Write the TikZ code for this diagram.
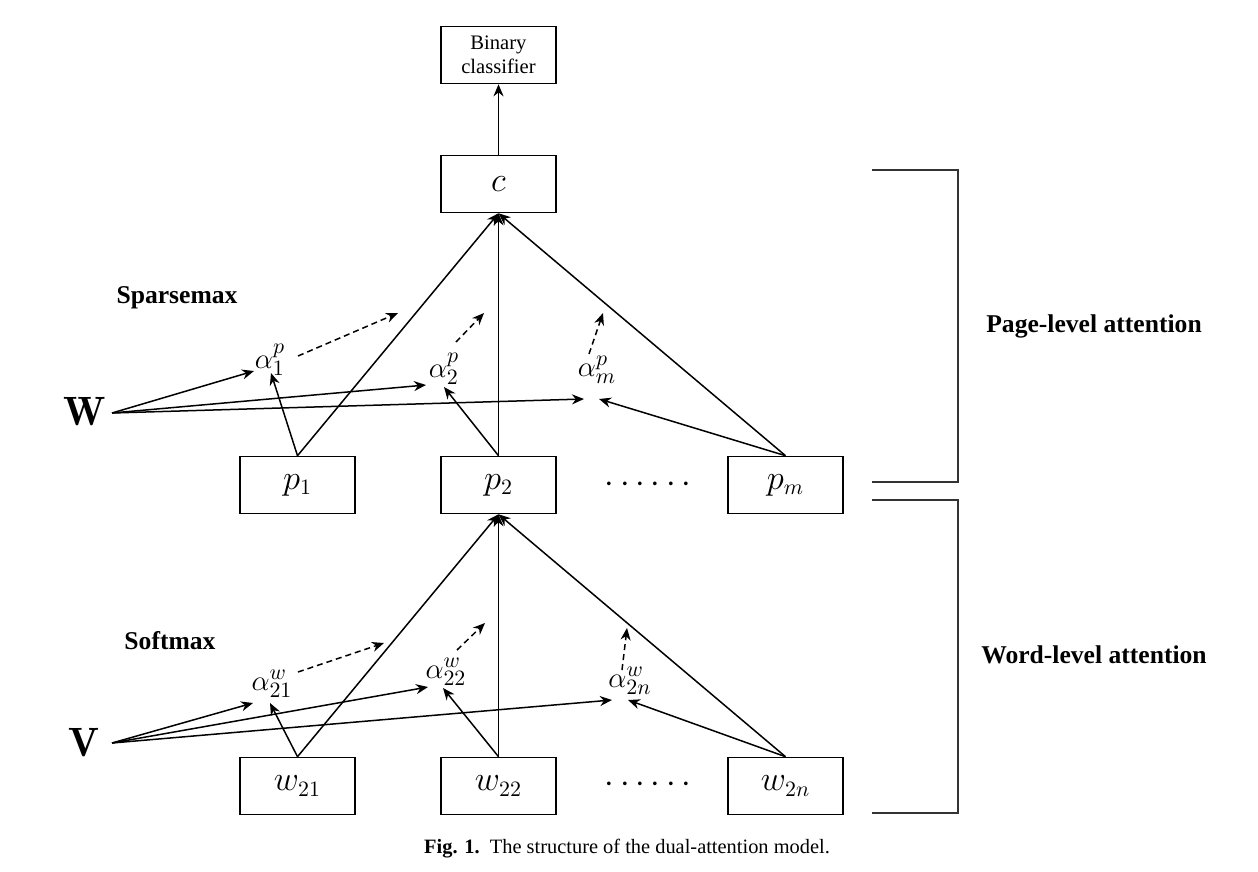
\documentclass[tikz,border=0pt]{standalone}
\usepackage{fontspec}
\newfontfamily\timesfont{Liberation Serif}
\usetikzlibrary{arrows.meta}
\begin{document}
\begin{tikzpicture}[x=0.5pt,y=-0.5pt,
  box/.style={draw,line width=0.8pt,minimum width=57.5pt,minimum height=28.5pt,inner sep=0pt,font=\fontsize{16}{19}\selectfont},
  arr/.style={line width=0.75pt,-{Stealth[length=6pt,width=5pt]}},
  darr/.style={arr,dash pattern=on 3pt off 2pt},
  alab/.style={inner sep=0pt,font=\fontsize{15}{17}\selectfont},
  blab/.style={inner sep=0pt,font=\timesfont\bfseries\fontsize{12.8}{15}\selectfont},
  mlab/.style={inner sep=0pt,font=\fontsize{20.5}{24}\selectfont},
  dots/.style={inner sep=0pt,font=\fontsize{16}{19}\selectfont},
  brk/.style={line width=0.75pt,draw=black!80}]
\useasboundingbox (0,0) rectangle (1258,872);

% boxes
\node[box,align=center,font=\timesfont\fontsize{10.3}{12.2}\selectfont] (bin) at (498.5,55) {Binary\\classifier};
\node[box] (c) at (498.5,184) {$c$};
\node[box] (p1) at (297.5,485) {$p_1$};
\node[box] (p2) at (498.5,485) {$p_2$};
\node[box] (pm) at (785.5,485) {$p_m$};
\node[box] (w21) at (297.5,786) {$w_{21}$};
\node[box] (w22) at (498.5,786) {$w_{22}$};
\node[box] (w2n) at (785.5,786) {$w_{2n}$};
\node[dots] (dp) at (648,485) {$\cdots\cdots$};
\node[dots] (dw) at (648,785) {$\cdots\cdots$};

% labels
\node[mlab] (W) at (85,412) {$\mathbf{W}$};
\node[mlab] (V) at (84,743) {$\mathbf{V}$};
\node[blab] (sp) at (177,298) {Sparsemax};
\node[blab] (so) at (170,641) {Softmax};
\node[blab] (pla) at (1094,326) {Page-level attention};
\node[blab] (wla) at (1094,655) {Word-level attention};

\node[alab] (a1) at (270,360) {$\alpha_1^p$};
\node[alab] (a2) at (444,369) {$\alpha_2^p$};
\node[alab] (am) at (597,370) {$\alpha_m^p$};
\node[alab] (b1) at (272,684) {$\alpha_{21}^w$};
\node[alab] (b2) at (446,672) {$\alpha_{22}^w$};
\node[alab] (bn) at (630,681) {$\alpha_{2n}^w$};

% coordinates
\coordinate (Wo) at (112,413);
\coordinate (t1w) at (254,371);
\coordinate (t1p) at (271,373);
\coordinate (t2w) at (426,385);
\coordinate (t2p) at (444,387);
\coordinate (tmw) at (584,399);
\coordinate (tmp) at (599,399);
\coordinate (d1s) at (298,356);
\coordinate (d1e) at (398,313);
\coordinate (d2s) at (456,342);
\coordinate (d2e) at (484,313);
\coordinate (dms) at (589,354);
\coordinate (dme) at (603,313);

\coordinate (Vo) at (112,743);
\coordinate (s1v) at (253,703);
\coordinate (s1w) at (270,703);
\coordinate (s2v) at (428,687);
\coordinate (s2w) at (443,688);
\coordinate (snv) at (612,700);
\coordinate (snw) at (628,700);
\coordinate (e1s) at (298,672);
\coordinate (e1e) at (384,643);
\coordinate (e2s) at (457,650);
\coordinate (e2e) at (485,623);
\coordinate (ens) at (622,670);
\coordinate (ene) at (627,628);

% top section
\draw[arr] (c.north) -- (bin.south);
\draw[arr] (p1.north) -- (c.south);
\draw[arr] (p2.north) -- (c.south);
\draw[arr] (pm.north) -- (c.south);
\draw[arr] (Wo) -- (t1w);
\draw[arr] (Wo) -- (t2w);
\draw[arr] (Wo) -- (tmw);
\draw[arr] (p1.north) -- (t1p);
\draw[arr] (p2.north) -- (t2p);
\draw[arr] (pm.north) -- (tmp);
\draw[darr] (d1s) -- (d1e);
\draw[darr] (d2s) -- (d2e);
\draw[darr] (dms) -- (dme);

% bottom section
\draw[arr] (w21.north) -- (p2.south);
\draw[arr] (w22.north) -- (p2.south);
\draw[arr] (w2n.north) -- (p2.south);
\draw[arr] (Vo) -- (s1v);
\draw[arr] (Vo) -- (s2v);
\draw[arr] (Vo) -- (snv);
\draw[arr] (w21.north) -- (s1w);
\draw[arr] (w22.north) -- (s2w);
\draw[arr] (w2n.north) -- (snw);
\draw[darr] (e1s) -- (e1e);
\draw[darr] (e2s) -- (e2e);
\draw[darr] (ens) -- (ene);

% brackets
\draw[brk] (872,170) -- (958,170) -- (958,482) -- (872,482);
\draw[brk] (872,500) -- (958,500) -- (958,813) -- (872,813);

% caption
\node[inner sep=0pt,font=\timesfont\fontsize{10.2}{12}\selectfont] (cap) at (627,849) {\textbf{Fig. 1.}\enspace The structure of the dual-attention model.};
\end{tikzpicture}
\end{document}
